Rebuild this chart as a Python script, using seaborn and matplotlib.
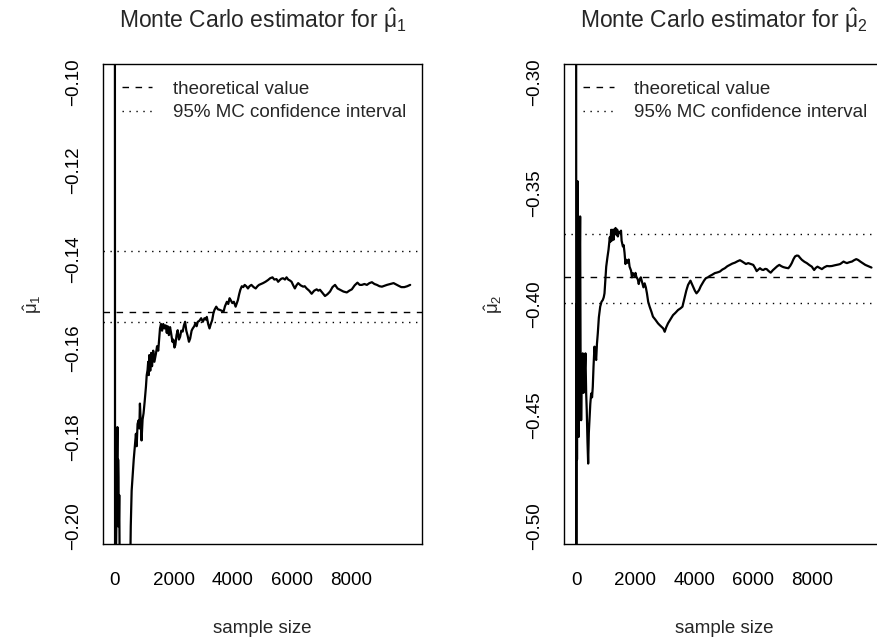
import numpy as np
import pandas as pd
import matplotlib
matplotlib.use("Agg")
import matplotlib.pyplot as plt
import seaborn as sns

# ==========================================
# Running Monte Carlo estimates
# ==========================================
n_mu1 = [1, 12, 35, 60, 88, 100, 112, 122, 135, 150, 170, 230, 316, 420, 510, 540, 570, 599,
         640, 680, 714, 740, 770, 803, 830, 850, 880, 905, 940, 973, 1010, 1054, 1080, 1108,
         1130, 1150, 1166, 1200, 1230, 1260, 1300, 1340, 1394, 1430, 1470, 1506, 1530, 1564,
         1600, 1640, 1676, 1720, 1760, 1788, 1830, 1870, 1904, 1950, 1982, 2020, 2050, 2090,
         2128, 2170, 2210, 2250, 2298, 2340, 2380, 2420, 2468, 2510, 2550, 2600, 2638, 2690,
         2730, 2770, 2808, 2860, 2924, 2980, 3036, 3080, 3114, 3160, 3206, 3250, 3298, 3340,
         3376, 3434, 3490, 3546, 3610, 3682, 3730, 3794, 3840, 3886, 3930, 3978, 4030, 4090,
         4130, 4168, 4210, 4250, 4300, 4350, 4396, 4450, 4508, 4560, 4624, 4700, 4770, 4830,
         4882, 4950, 5018, 5100, 5188, 5260, 5338, 5400, 5474, 5530, 5586, 5640, 5698, 5760,
         5814, 5870, 5926, 5984, 6040, 6096, 6150, 6208, 6290, 6378, 6430, 6494, 6580, 6664,
         6750, 6834, 6890, 6946, 7030, 7116, 7200, 7286, 7370, 7456, 7540, 7626, 7740, 7854,
         7940, 8024, 8120, 8214, 8290, 8364, 8450, 8534, 8620, 8704, 8790, 8874, 8960, 9044,
         9130, 9214, 9330, 9438, 9520, 9608, 9700, 9802, 9900, 10000]
est_mu1 = [-0.030, -0.320, -0.210, -0.195, -0.1777, -0.200, -0.185, -0.189, -0.200, -0.193,
           -0.215, -0.225, -0.240, -0.250, -0.215, -0.200, -0.192, -0.189, -0.185, -0.182,
           -0.1792, -0.182, -0.177, -0.1762, -0.178, -0.1724, -0.177, -0.1807, -0.176, -0.1746,
           -0.172, -0.1686, -0.166, -0.1649, -0.163, -0.166, -0.1615, -0.165, -0.1610, -0.1640,
           -0.1605, -0.1630, -0.1611, -0.1595, -0.1605, -0.1574, -0.1555, -0.1545, -0.1560,
           -0.1545, -0.1555, -0.1548, -0.1565, -0.1550, -0.1570, -0.1552, -0.1565, -0.1585,
           -0.1580, -0.1598, -0.1592, -0.1570, -0.1559, -0.1580, -0.1574, -0.1560, -0.1562,
           -0.1548, -0.1540, -0.1560, -0.1572, -0.1585, -0.1578, -0.1560, -0.1555, -0.1550,
           -0.1543, -0.1550, -0.1540, -0.1538, -0.1532, -0.1540, -0.1532, -0.1535, -0.1529,
           -0.1545, -0.1555, -0.1545, -0.1536, -0.1520, -0.1513, -0.1506, -0.1512, -0.1513,
           -0.1515, -0.1517, -0.1505, -0.1495, -0.1500, -0.1487, -0.1492, -0.1498, -0.1495,
           -0.1506, -0.1498, -0.1491, -0.1478, -0.1468, -0.1460, -0.1462, -0.1457, -0.1460,
           -0.1465, -0.1460, -0.1457, -0.1462, -0.1465, -0.1460, -0.1457, -0.1455, -0.1453,
           -0.1450, -0.1446, -0.1442, -0.1440, -0.1445, -0.1444, -0.1450, -0.1446, -0.1443,
           -0.1442, -0.1445, -0.1440, -0.1445, -0.1447, -0.1450, -0.1458, -0.1465, -0.1458,
           -0.1453, -0.1458, -0.1461, -0.1460, -0.1465, -0.1470, -0.1477, -0.1470, -0.1467,
           -0.1470, -0.1468, -0.1475, -0.1482, -0.1478, -0.1472, -0.1462, -0.1457, -0.1465,
           -0.1468, -0.1472, -0.1474, -0.1470, -0.1467, -0.1458, -0.1452, -0.1457, -0.1457,
           -0.1455, -0.1457, -0.1453, -0.1451, -0.1455, -0.1457, -0.1460, -0.1461, -0.1459,
           -0.1457, -0.1455, -0.1453, -0.1456, -0.1459, -0.1462, -0.1462, -0.1460, -0.1457]
theory_mu1 = -0.1517
ci_mu1 = [-0.1541, -0.1381]

n_mu2 = [1, 6, 15, 30, 54, 70, 88, 110, 136, 150, 170, 195, 224, 250, 282, 316, 340, 360, 385,
         408, 430, 452, 480, 509, 540, 564, 590, 621, 650, 679, 705, 734, 770, 815, 860, 903,
         935, 961, 990, 1019, 1060, 1097, 1140, 1160, 1189, 1205, 1220, 1244, 1267, 1285, 1300,
         1335, 1370, 1390, 1413, 1450, 1494, 1520, 1540, 1583, 1610, 1640, 1670, 1698, 1750,
         1780, 1810, 1860, 1890, 1922, 1980, 2010, 2038, 2090, 2120, 2150, 2190, 2230, 2280,
         2320, 2360, 2398, 2440, 2489, 2550, 2602, 2680, 2772, 2830, 2887, 2950, 2999,
         3050, 3111, 3190, 3281, 3360, 3451, 3530, 3600, 3640, 3678, 3730, 3790, 3871, 3920,
         3960, 4020, 4075, 4120, 4163, 4220, 4279, 4330, 4391, 4460, 4527, 4610, 4697, 4780,
         4867, 4950, 5036, 5120, 5206, 5290, 5376, 5460, 5546, 5600, 5658, 5750, 5828, 5910,
         5997, 6060, 6113, 6170, 6225, 6280, 6337, 6400, 6452, 6520, 6588, 6660, 6734, 6810,
         6880, 6950, 7016, 7100, 7186, 7250, 7301, 7360, 7413, 7470, 7526, 7580, 7641, 7730,
         7811, 7900, 7981, 8020, 8059, 8110, 8171, 8250, 8320, 8400, 8490, 8575, 8660, 8750,
         8830, 8890, 8942, 9000, 9054, 9110, 9169, 9250, 9339, 9410, 9485, 9550, 9621, 9700,
         9791, 9880, 9961, 10000]
est_mu2 = [-0.250, -0.550, -0.400, -0.470, -0.3448, -0.420, -0.4598, -0.400, -0.3606, -0.420,
           -0.4523, -0.430, -0.4222, -0.440, -0.4343, -0.4222, -0.440, -0.4478, -0.462, -0.4718,
           -0.458, -0.4523, -0.445, -0.4403, -0.442, -0.4373, -0.428, -0.4192, -0.423, -0.4252,
           -0.418, -0.4132, -0.406, -0.4012, -0.3990, -0.3982, -0.3970, -0.3952, -0.3890,
           -0.3832, -0.3790, -0.3756, -0.3700, -0.3720, -0.3666, -0.3715, -0.3690, -0.3666,
           -0.3711, -0.3665, -0.3680, -0.3658, -0.3690, -0.3665, -0.3696, -0.3675, -0.3681,
           -0.3670, -0.3715, -0.3741, -0.3735, -0.3770, -0.3820, -0.3801, -0.3815, -0.3800,
           -0.3832, -0.3850, -0.3880, -0.3861, -0.3875, -0.3860, -0.3877, -0.3890, -0.3910,
           -0.3892, -0.3880, -0.3900, -0.3925, -0.3907, -0.3925, -0.3952, -0.3990, -0.4012,
           -0.4035, -0.4057, -0.4070, -0.4087, -0.4095, -0.4102, -0.4110, -0.4125,
           -0.4105, -0.4087, -0.4070, -0.4050, -0.4040, -0.4027, -0.4020, -0.4012, -0.3990,
           -0.3967, -0.3940, -0.3914, -0.3895, -0.3910, -0.3922, -0.3940, -0.3952, -0.3945,
           -0.3937, -0.3920, -0.3907, -0.3895, -0.3884, -0.3880, -0.3874, -0.3868, -0.3861,
           -0.3858, -0.3854, -0.3845, -0.3839, -0.3830, -0.3824, -0.3818, -0.3814, -0.3808,
           -0.3803, -0.3807, -0.3812, -0.3820, -0.3816, -0.3820, -0.3824, -0.3838, -0.3852,
           -0.3845, -0.3839, -0.3845, -0.3847, -0.3842, -0.3843, -0.3852, -0.3859, -0.3848,
           -0.3839, -0.3830, -0.3824, -0.3830, -0.3834, -0.3837, -0.3839, -0.3828, -0.3816,
           -0.3798, -0.3786, -0.3782, -0.3783, -0.3792, -0.3801, -0.3810, -0.3816, -0.3825,
           -0.3832, -0.3840, -0.3847, -0.3838, -0.3832, -0.3838, -0.3843, -0.3835, -0.3829,
           -0.3830, -0.3829, -0.3826, -0.3824, -0.3822, -0.3820, -0.3814, -0.3809, -0.3813,
           -0.3816, -0.3812, -0.3809, -0.3803, -0.3798, -0.3802, -0.3809, -0.3816, -0.3824,
           -0.3829, -0.3834, -0.3836]
theory_mu2 = -0.3879
ci_mu2 = [-0.3997, -0.3685]

x_ticks = [0, 2000, 4000, 6000, 8000, 10000]
x_tick_labels = ["0", "2000", "4000", "6000", "8000", ""]
y_ticks_mu1 = [-0.20, -0.18, -0.16, -0.14, -0.12, -0.10]
y_ticks_mu2 = [-0.50, -0.45, -0.40, -0.35, -0.30]

# ==========================================
# Figure
# ==========================================
sns.set_style("white")
plt.rcParams['font.family'] = ['Liberation Sans', 'DejaVu Sans']
plt.rcParams['mathtext.fontset'] = 'custom'
plt.rcParams['mathtext.rm'] = 'Liberation Sans'
plt.rcParams['mathtext.it'] = 'Liberation Sans:italic'
plt.rcParams['axes.unicode_minus'] = True

fs = 13.5
fig = plt.figure(figsize=(8.78, 6.43), dpi=100)

panels = [
    (n_mu1, est_mu1, theory_mu1, ci_mu1, y_ticks_mu1, (-0.204, -0.096), "1", 103),
    (n_mu2, est_mu2, theory_mu2, ci_mu2, y_ticks_mu2, (-0.508, -0.292), "2", 564.3),
]

for n, est, theory, ci, yt, ylim, idx, left_px in panels:
    ax = fig.add_axes([left_px / 878, 1 - 544 / 643, 319 / 878, 480 / 643])
    df = pd.DataFrame({"n": n, "est": est})
    sns.lineplot(data=df, x="n", y="est", ax=ax, color="black", lw=1.6,
                 estimator=None, sort=False)
    ax.axhline(theory, color="black", lw=1.0, dashes=(4.7, 4.7), label="theoretical value")
    ax.axhline(ci[0], color="black", lw=1.0, dashes=(1, 4), label="95% MC confidence interval")
    ax.axhline(ci[1], color="black", lw=1.0, dashes=(1, 4))

    ax.set_xlim(-400, 10400)
    ax.set_ylim(*ylim)
    ax.set_xticks(x_ticks, labels=x_tick_labels)
    ax.set_yticks(yt, labels=[("%.2f" % v).replace("-", "\u2212") for v in yt])
    for t in ax.get_yticklabels():
        t.set_rotation(90)
        t.set_va("center")
    ax.tick_params(direction="out", length=8, width=1, labelsize=fs, colors="black")
    ax.tick_params(axis="x", pad=12)
    ax.tick_params(axis="y", pad=7)
    for s in ax.spines.values():
        s.set_color("black")
        s.set_linewidth(1.0)

    label = r"$\hat{\mathrm{\mu}}_{" + idx + "}$"
    ax.set_xlabel("sample size", fontsize=fs)
    ax.set_ylabel(label, fontsize=fs)
    ax.xaxis.set_label_coords(0.5, -0.158)
    ax.yaxis.set_label_coords(-0.185, 0.5)
    ax.set_title("Monte Carlo estimator for " + label, fontsize=16.5, pad=26)

    handles, labels = ax.get_legend_handles_labels()
    keep = [i for i, l in enumerate(labels) if l in ("theoretical value", "95% MC confidence interval")]
    ax.legend([handles[i] for i in keep], [labels[i] for i in keep],
              loc="upper left", bbox_to_anchor=(0.058, 0.965), frameon=False,
              fontsize=fs, handlelength=1.65, handletextpad=1.1, labelspacing=0.33,
              borderpad=0, borderaxespad=0)

plt.savefig("out.png", dpi=100)
